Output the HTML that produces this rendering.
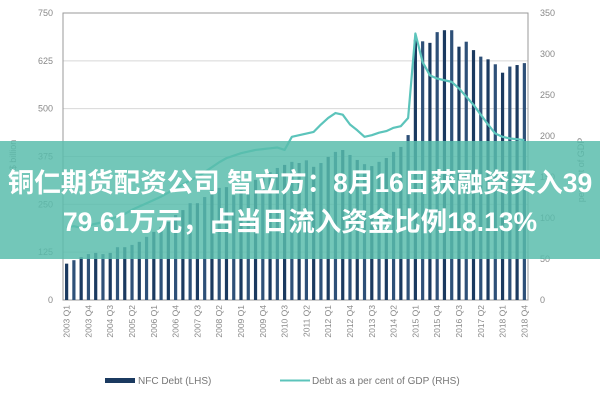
<!DOCTYPE html>
<html><head><meta charset="utf-8"><style>
html,body{margin:0;padding:0;background:#fff;}
#wrap{position:relative;width:600px;height:400px;overflow:hidden;font-family:"Liberation Sans","Noto Sans CJK SC",sans-serif;}
#band{position:absolute;left:0;top:141px;width:600px;height:118px;background:rgba(88,188,172,0.84);}
.t{position:absolute;left:0;width:600px;text-align:center;color:#fff;font-weight:bold;font-size:26.5px;line-height:32px;font-family:"Liberation Sans","Noto Sans CJK SC",sans-serif;white-space:nowrap;}
</style></head><body>
<div id="wrap">
<svg id="chart" width="600" height="400"></svg>
<div id="band">
<div class="t" style="top:26px">铜仁期货配资公司 智立方：8月16日获融资买入39</div>
<div class="t" style="top:65px">79.61万元，占当日流入资金比例18.13%</div>
</div>
</div>
<script>
const quarters=[];for(let y=2003;y<=2018;y++)for(let q=1;q<=4;q++)quarters.push(y+' Q'+q);
const debtValues=[95,104,112,120,123,120,123,138,138,144,152,165,178,191,204,222,235,253,253,269,287,293,295,274,287,306,314,321,334,345,353,361,358,365,348,358,374,387,392,379,366,355,350,361,371,387,400,431,680,676,672,700,705,705,662,675,653,636,629,616,594,610,614,619];
const gdpPct=[89,90,88,91,93,95,98,102,105,110,114,118,122,126,131,136,141,146,150,156,162,168,173,176,179,181,183,184,185,186,183,199,201,203,205,214,222,228,226,214,207,199,201,204,206,210,212,222,325,290,274,270,268,266,258,248,238,226,214,203,199,197,196,195];
const leftTicks=[0,125,250,375,500,625,750];
const rightTicks=[0,50,100,150,200,250,300,350];
const NS='http://www.w3.org/2000/svg';
const svg=document.getElementById('chart');
const X0=63,X1=528,Y0=300,Y1=13;
const step=(X1-X0)/quarters.length;
const xC=i=>X0+step*(i+0.5);
const yL=v=>Y0-(v/750)*(Y0-Y1);
const yR=v=>Y0-(v/350)*(Y0-Y1);
function mk(tag,attrs,parent){const e=document.createElementNS(NS,tag);for(const k in attrs)e.setAttribute(k,attrs[k]);(parent||svg).appendChild(e);return e;}
leftTicks.forEach(v=>{
 const g=mk('line',{x1:X0,x2:X1,y1:yL(v),y2:yL(v),stroke:'#d8d8d8','stroke-width':1});
 
 
 const t=mk('text',{x:X0-10,y:yL(v)+3,'text-anchor':'end','font-size':9,fill:'#888'});
 t.textContent=v;
 
 
});
rightTicks.forEach(v=>{
 const t=mk('text',{x:X1+12,y:yR(v)+3,'text-anchor':'start','font-size':9,fill:'#888'});
 t.textContent=v;
 
 
});
const frame=mk('rect',{x:X0,y:Y1,width:X1-X0,height:Y0-Y1,fill:'none',stroke:'#999','stroke-width':1});


debtValues.forEach((v,i)=>{
 const b=mk('rect',{x:xC(i)-1.6,y:yL(v),width:3.2,height:Y0-yL(v),fill:(i%2?'#2e5078':'#1b3a60')});
 
 
});
const pts=gdpPct.map((v,i)=>xC(i)+','+yR(v)).join(' ');
const pl=mk('polyline',{points:pts,fill:'none',stroke:'#5cc4bb','stroke-width':2.2,'stroke-linejoin':'round'});


quarters.forEach((q,i)=>{
 if(i%3!==0)return;
 const t=mk('text',{transform:'translate('+(xC(i)+3)+',305) rotate(-90)','text-anchor':'end','font-size':8.5,fill:'#888'});
 t.textContent=q;
 
 
});
let at=mk('text',{transform:'translate(16,155) rotate(-90)','text-anchor':'middle','font-size':9,fill:'#888'});
at.textContent='$ billion';


at=mk('text',{transform:'translate(584,170) rotate(-90)','text-anchor':'middle','font-size':9,fill:'#888'});
at.textContent='per cent of GDP';


let s=mk('rect',{x:105,y:378,width:30,height:5,fill:'#1b3a60'});


let lt=mk('text',{x:138,y:384,'font-size':10,fill:'#777'});
lt.textContent='NFC Debt (LHS)';


s=mk('line',{x1:280,x2:310,y1:380.5,y2:380.5,stroke:'#5cc4bb','stroke-width':2});


lt=mk('text',{x:312,y:384,'font-size':10,fill:'#777'});
lt.textContent='Debt as a per cent of GDP (RHS)';


</script>
</body></html>
